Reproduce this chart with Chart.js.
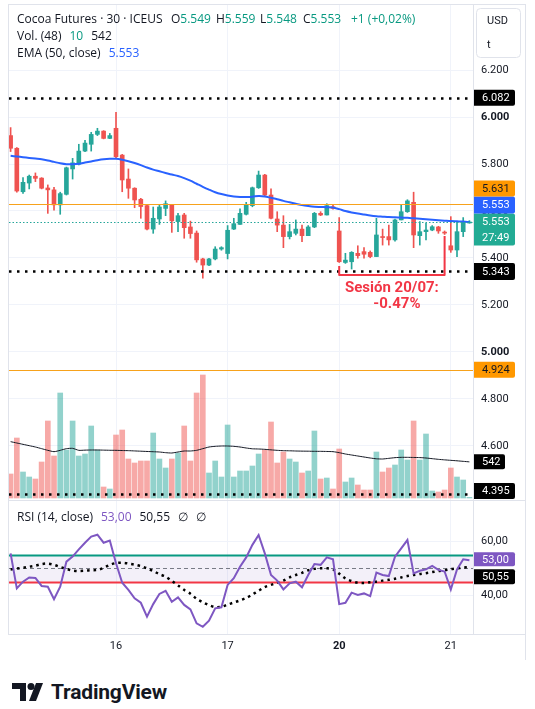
<!DOCTYPE html>
<html>
<head>
<meta charset="utf-8">
<script src="https://cdn.jsdelivr.net/npm/chart.js@4.4.1/dist/chart.umd.min.js"></script>
<style>
  body { margin: 0; width: 535px; height: 709px; overflow: hidden; position: relative; background: #fff;
         font-family: Roboto, "DejaVu Sans", sans-serif; color: #131722; }
  canvas { position: absolute; left: 0; }
  #priceChart { top: 0; }
  #rsiChart { top: 500px; }
  .legend { position: absolute; left: 17px; font-family: "Open Sans", Roboto, sans-serif; font-size: 12px;
            line-height: 17px; white-space: nowrap; }
  .legend .at { position: absolute; top: 0; }
  .up { color: #089981; }
  .blue { color: #2962ff; }
  .purple { color: #7e57c2; }
  .gap { margin-left: 8px; }
  #brand { position: absolute; left: 12px; top: 680px; height: 24px; display: flex; align-items: center; }
  #brand span { font-size: 21px; font-weight: bold; margin-left: 8px; letter-spacing: -0.2px; }
</style>
</head>
<body>
<canvas id="priceChart" width="535" height="500"></canvas>
<canvas id="rsiChart" width="535" height="170"></canvas>

<div class="legend" style="top:10px;width:460px;height:17px">Cocoa Futures · 30 · ICEUS
  <span class="at" style="left:154px">O<span class="up">5.549</span></span>
  <span class="at" style="left:199px">H<span class="up">5.559</span></span>
  <span class="at" style="left:243px">L<span class="up">5.548</span></span>
  <span class="at" style="left:286px">C<span class="up">5.553</span></span>
  <span class="at up" style="left:334px">+1 (+0,02%)</span>
</div>
<div class="legend" style="top:27px">Vol. (48)<span class="up gap">10</span><span class="gap">542</span></div>
<div class="legend" style="top:44px">EMA (50, close)<span class="blue gap">5.553</span></div>
<div class="legend" style="top:508px">RSI (14, close)<span class="purple gap">53,00</span><span class="gap">50,55</span><span class="gap">∅</span><span class="gap">∅</span></div>

<div id="brand">
  <svg width="31" height="18" viewBox="0 0 31 18">
    <path d="M0 0H14V18H8V6H0Z" fill="#131722"/>
    <circle cx="19" cy="3.5" r="3.5" fill="#131722"/>
    <path d="M24 0H31L24 18H17Z" fill="#131722"/>
  </svg>
  <span>TradingView</span>
</div>

<script>
// 30 min bars, Jul 15 (partial) to Jul 21, prices in USD/t
const opens = [5921, 5867, 5682, 5719, 5748, 5740, 5698, 5690, 5626, 5671, 5779, 5799, 5855, 5884, 5926, 5940, 5909,
  5952, 5838, 5736, 5697, 5650, 5623, 5523, 5566, 5611, 5626, 5555, 5583, 5532, 5506, 5396, 5370, 5396, 5438,
  5419, 5523, 5543, 5586, 5623, 5699, 5753, 5668, 5566, 5540, 5491, 5505, 5523, 5495, 5532, 5590, 5583, 5618,
  5515, 5381, 5384, 5420, 5427, 5424, 5406, 5491, 5491, 5477, 5562, 5597, 5637, 5495, 5512, 5519, 5532, 5509,
  5452, 5434, 5512, 5549];
const highs = [5955, 5870, 5742, 5753, 5762, 5742, 5711, 5701, 5680, 5787, 5824, 5884, 5901, 5935, 5952, 5942, 5930,
  6020, 5841, 5779, 5699, 5654, 5626, 5617, 5626, 5643, 5626, 5590, 5590, 5557, 5515, 5399, 5399, 5448, 5448,
  5538, 5569, 5609, 5637, 5702, 5770, 5756, 5694, 5597, 5580, 5543, 5562, 5540, 5538, 5594, 5597, 5631, 5628,
  5572, 5420, 5427, 5452, 5444, 5430, 5569, 5523, 5540, 5566, 5628, 5648, 5680, 5555, 5547, 5538, 5535, 5515,
  5576, 5555, 5572, 5559];
const lows = [5853, 5680, 5675, 5694, 5725, 5694, 5590, 5604, 5586, 5668, 5736, 5796, 5853, 5855, 5921, 5907, 5908,
  5824, 5682, 5654, 5614, 5569, 5520, 5505, 5543, 5580, 5509, 5512, 5484, 5484, 5382, 5314, 5367, 5392, 5433,
  5396, 5521, 5543, 5583, 5618, 5696, 5665, 5566, 5512, 5444, 5481, 5498, 5469, 5495, 5529, 5580, 5583, 5608,
  5381, 5377, 5353, 5399, 5399, 5401, 5406, 5455, 5455, 5472, 5562, 5594, 5444, 5455, 5477, 5516, 5505, 5500,
  5424, 5406, 5491, 5548];
const closes = [5867, 5685, 5722, 5748, 5739, 5697, 5690, 5626, 5674, 5784, 5805, 5855, 5889, 5926, 5940, 5909, 5921,
  5831, 5732, 5697, 5647, 5619, 5523, 5569, 5617, 5631, 5558, 5580, 5529, 5504, 5392, 5370, 5396, 5438, 5444,
  5518, 5546, 5590, 5628, 5699, 5753, 5668, 5569, 5540, 5491, 5512, 5523, 5495, 5532, 5590, 5583, 5623, 5611,
  5384, 5391, 5424, 5410, 5416, 5406, 5498, 5487, 5477, 5562, 5597, 5643, 5498, 5512, 5519, 5533, 5515, 5506,
  5434, 5512, 5552, 5553];
const volumes = [360, 900, 390, 315, 285, 540, 1155, 630, 1575, 720, 1155, 630, 660, 1080, 720, 165, 135,
  945, 1020, 585, 525, 555, 555, 975, 585, 450, 585, 675, 1080, 555, 1575, 1845, 375, 555, 315,
  1095, 315, 405, 405, 480, 660, 720, 1140, 525, 690, 585, 540, 375, 405, 1005, 285, 300, 135,
  735, 240, 300, 195, 120, 120, 690, 390, 450, 495, 720, 570, 1155, 570, 960, 105, 90, 120,
  450, 315, 270, 10];
const volMa = [845, 825, 805, 785, 765, 740, 715, 695, 715, 740, 745, 715, 718, 720, 720, 718, 716,
  715, 712, 710, 706, 702, 698, 694, 690, 680, 675, 690, 705, 705, 715, 740, 765, 775, 780,
  780, 775, 765, 750, 738, 735, 730, 722, 715, 710, 708, 705, 703, 702, 700, 700, 698, 695,
  680, 660, 645, 630, 615, 600, 588, 585, 595, 605, 610, 610, 608, 606, 600, 590, 580, 572,
  565, 558, 550, 542];
const ema50 = [5835, 5832, 5829, 5826, 5823, 5820, 5815, 5809, 5803, 5799, 5799, 5801, 5806, 5811, 5816, 5820, 5822,
  5822, 5818, 5812, 5804, 5795, 5785, 5776, 5769, 5762, 5755, 5749, 5740, 5729, 5716, 5703, 5691, 5680, 5672,
  5666, 5662, 5660, 5660, 5661, 5664, 5662, 5656, 5650, 5643, 5637, 5631, 5625, 5621, 5618, 5617, 5616, 5615,
  5608, 5600, 5594, 5589, 5585, 5581, 5578, 5576, 5574, 5573, 5572, 5571, 5569, 5567, 5565, 5563, 5561, 5559,
  5557, 5556, 5555, 5553];
const rsi14 = [55.6, 42.5, 45.0, 46.6, 46.4, 43.4, 43.1, 38.4, 43.1, 52.5, 54.4, 57.1, 59.6, 61.9, 62.6, 59.6, 60.4,
  51.9, 44.6, 41.9, 38.8, 37.1, 31.9, 36.6, 40.4, 41.6, 37.5, 39.1, 36.3, 34.6, 29.4, 28.1, 30.4, 35.0, 35.4,
  43.8, 46.3, 50.6, 54.1, 58.8, 62.5, 55.6, 47.5, 45.4, 42.1, 44.4, 45.0, 42.9, 47.5, 51.6, 51.3, 54.1, 53.4,
  36.6, 37.1, 40.9, 40.0, 40.6, 39.6, 48.4, 47.5, 47.1, 54.4, 57.5, 60.6, 48.1, 49.1, 49.6, 50.9, 49.4, 48.8,
  42.1, 49.6, 53.4, 53.0];
const rsiMa = [49.6, 49.9, 50.2, 50.6, 51.0, 51.6, 51.8, 51.3, 50.5, 49.8, 49.2, 49.0, 49.1, 49.3, 49.4, 50.2, 51.3,
  52.0, 52.1, 51.8, 51.4, 50.8, 50.0, 49.0, 47.8, 46.9, 45.3, 43.6, 41.9, 40.5, 38.6, 37.3, 36.2, 35.5, 35.6,
  36.4, 37.2, 38.0, 38.9, 40.2, 41.6, 43.0, 43.8, 44.6, 45.4, 46.6, 47.5, 48.3, 49.3, 49.8, 50.0, 50.0, 49.6,
  48.0, 46.2, 45.2, 44.6, 44.5, 44.8, 45.0, 45.4, 45.7, 46.1, 46.6, 47.1, 47.5, 47.9, 48.2, 48.6, 49.0, 49.3,
  49.7, 50.0, 50.3, 50.55];

const dayIdx = [17, 35, 53, 71];
const dayLabels = ['16', '17', '20', '21'];
const blackLevels = [6082, 5343, 4395];
const orangeLevels = [5631, 4924];
const lastPrice = 5553;
const countdown = '27:49';
const rsiBands = [55, 50, 45];
const session = { from: 53, to: 70, leftTop: 5366, bottom: 5328, rightTop: 5494, title: 'Sesión 20/07:', change: '-0.47%' };

const FONT = 'Roboto, "DejaVu Sans", sans-serif';
const UP = '#26a69a', DOWN = '#ef5350';
const idx = closes.map((c, i) => i);
const isUp = i => closes[i] >= opens[i];

function fmtPrice(v) {
  const s = Math.round(v).toString();
  return s.length > 3 ? s.slice(0, -3) + '.' + s.slice(-3) : s;
}
const fmtRsi = v => v.toFixed(2).replace('.', ',');

// scales must not push the plot area around with label padding
function noPad(s) {
  s.paddingTop = 0; s.paddingBottom = 0; s.paddingLeft = 0; s.paddingRight = 0;
}

function xAxis(labels) {
  return {
    type: 'linear', min: -0.26, max: 74.58, offset: false,
    afterBuildTicks: s => { s.ticks = dayIdx.map(v => ({ value: v })); },
    grid: { color: '#f0f3fa', drawTicks: false, offset: false },
    border: { display: false },
    ticks: {
      display: labels, padding: 6, color: '#131722', maxRotation: 0, autoSkip: false,
      font: c => ({ family: FONT, size: 11, weight: c.tick && c.tick.value === 53 ? 'bold' : 'normal' }),
      callback: (v, i) => dayLabels[i]
    },
    afterFit: s => { s.height = labels ? 36 : 0; noPad(s); }
  };
}

function hline(ctx, area, y, color, width, dash) {
  ctx.beginPath();
  ctx.strokeStyle = color; ctx.lineWidth = width; ctx.setLineDash(dash);
  ctx.moveTo(area.left, Math.round(y) + 0.5);
  ctx.lineTo(area.right, Math.round(y) + 0.5);
  ctx.stroke();
  ctx.setLineDash([]);
}

function tag(ctx, x, top, w, h, bg, fg, lines) {
  ctx.fillStyle = bg;
  ctx.beginPath(); ctx.roundRect(x, top, w, h, [0, 2, 2, 0]); ctx.fill();
  ctx.fillStyle = fg; ctx.font = '11px ' + FONT;
  ctx.textAlign = 'left'; ctx.textBaseline = 'middle';
  lines.forEach((t, k) => ctx.fillText(t, x + 8, top + h / lines.length / 2 + k * (h / lines.length) + 0.5));
}

function frame(ctx, x0, y0, x1, y1, sides) {
  ctx.strokeStyle = '#e0e3eb'; ctx.lineWidth = 1;
  ctx.beginPath();
  if (sides.includes('t')) { ctx.moveTo(x0, y0 + 0.5); ctx.lineTo(x1, y0 + 0.5); }
  if (sides.includes('b')) { ctx.moveTo(x0, y1 - 0.5); ctx.lineTo(x1, y1 - 0.5); }
  if (sides.includes('l')) { ctx.moveTo(x0 + 0.5, y0); ctx.lineTo(x0 + 0.5, y1); }
  if (sides.includes('r')) { ctx.moveTo(x1 - 0.5, y0); ctx.lineTo(x1 - 0.5, y1); }
  ctx.stroke();
}

const pricePane = {
  id: 'pricePane',
  afterDatasetsDraw(chart) {
    const { ctx, chartArea: a, scales: { x, y } } = chart;
    ctx.save();
    hline(ctx, a, y.getPixelForValue(lastPrice), UP, 1, [1.5, 2]);
    orangeLevels.forEach(v => hline(ctx, a, y.getPixelForValue(v), '#f7a21b', 1, []));
    blackLevels.forEach(v => hline(ctx, a, y.getPixelForValue(v), '#000', 2.5, [2.5, 5.5]));

    // session bracket
    const xl = x.getPixelForValue(session.from), xr = x.getPixelForValue(session.to);
    const yb = y.getPixelForValue(session.bottom);
    ctx.strokeStyle = '#f23645'; ctx.lineWidth = 2; ctx.lineJoin = 'round';
    ctx.beginPath();
    ctx.moveTo(xl, y.getPixelForValue(session.leftTop));
    ctx.lineTo(xl, yb); ctx.lineTo(xr, yb);
    ctx.lineTo(xr, y.getPixelForValue(session.rightTop));
    ctx.stroke();
    ctx.fillStyle = '#f23645'; ctx.font = 'bold 15px ' + FONT;
    ctx.textAlign = 'center'; ctx.textBaseline = 'middle';
    const xc = (xl + xr) / 2 + 2;
    ctx.fillText(session.title, xc - 2, yb + 13);
    ctx.fillText(session.change, xc + 3, yb + 29);
    ctx.restore();
  },
  afterDraw(chart) {
    const { ctx, chartArea: a, scales: { y, yv } } = chart;
    ctx.save();
    frame(ctx, 8, 4, 526, 500, 'tlr');
    const tx = a.right + 1, tw = 41;
    // USD / t unit box
    ctx.fillStyle = '#fff'; ctx.strokeStyle = '#e0e3eb';
    ctx.beginPath(); ctx.roundRect(476.5, 8.5, 44, 49, 4); ctx.fill(); ctx.stroke();
    ctx.fillStyle = '#131722'; ctx.font = '11px ' + FONT; ctx.textAlign = 'left'; ctx.textBaseline = 'middle';
    ctx.fillText('USD', 487, 21); ctx.fillText('t', 487, 45);

    const yCur = y.getPixelForValue(lastPrice);
    const curTop = yCur - 8.5;
    tag(ctx, tx, curTop, tw, 32, '#22ab94', '#fff', [fmtPrice(lastPrice), countdown]);
    tag(ctx, tx, curTop - 17, tw, 17, '#2962ff', '#fff', [fmtPrice(ema50[ema50.length - 1])]);
    tag(ctx, tx, curTop - 33, tw, 16, '#ff9800', '#131722', [fmtPrice(orangeLevels[0])]);
    const c = v => y.getPixelForValue(v);
    tag(ctx, tx, c(blackLevels[0]) - 8, tw, 16, '#000', '#fff', [fmtPrice(blackLevels[0])]);
    tag(ctx, tx, c(blackLevels[1]) - 8.5, tw, 17, '#000', '#fff', [fmtPrice(blackLevels[1])]);
    tag(ctx, tx, c(orangeLevels[1]) - 8, tw, 16, '#ff9800', '#131722', [fmtPrice(orangeLevels[1])]);
    const vLast = volMa[volMa.length - 1];
    tag(ctx, tx, yv.getPixelForValue(vLast) - 7.5, 31, 15, '#000', '#fff', [String(vLast)]);
    tag(ctx, tx, Math.min(c(blackLevels[2]) - 8, 483), tw, 16, '#000', '#fff', [fmtPrice(blackLevels[2])]);
    ctx.restore();
  }
};

new Chart(document.getElementById('priceChart'), {
  type: 'bar',
  data: {
    datasets: [
      {
        label: 'EMA', type: 'line', yAxisID: 'y', order: 1,
        data: idx.map(i => ({ x: i, y: ema50[i] })),
        borderColor: '#2962ff', borderWidth: 2, pointRadius: 0, tension: 0.3
      },
      {
        label: 'body', yAxisID: 'y', order: 2, grouped: false, barThickness: 4, minBarLength: 1,
        data: idx.map(i => ({ x: i, y: [opens[i], closes[i]] })),
        backgroundColor: c => isUp(c.dataIndex) ? UP : DOWN
      },
      {
        label: 'wick', yAxisID: 'y', order: 3, grouped: false, barThickness: 1,
        data: idx.map(i => ({ x: i, y: [lows[i], highs[i]] })),
        backgroundColor: c => isUp(c.dataIndex) ? UP : DOWN
      },
      {
        label: 'Vol MA', type: 'line', yAxisID: 'yv', order: 4,
        data: idx.map(i => ({ x: i, y: volMa[i] })),
        borderColor: '#131722', borderWidth: 1, pointRadius: 0, tension: 0.2
      },
      {
        label: 'Volume', yAxisID: 'yv', order: 5, grouped: false, barThickness: 5,
        data: idx.map(i => ({ x: i, y: volumes[i] })),
        backgroundColor: c => isUp(c.dataIndex) ? 'rgba(38,166,154,0.5)' : 'rgba(239,83,80,0.5)'
      }
    ]
  },
  options: {
    responsive: false, animation: false, devicePixelRatio: 1,
    layout: { padding: { left: 9, top: 4, right: 0, bottom: 0 }, autoPadding: false },
    plugins: { legend: { display: false }, tooltip: { enabled: false } },
    scales: {
      x: xAxis(false),
      y: {
        position: 'right', min: 4370, max: 6481,
        afterBuildTicks: s => { s.ticks = s.ticks.filter(t => t.value % 200 === 0 && t.value >= 4600 && t.value <= 6200); },
        ticks: {
          stepSize: 200, padding: 8, color: '#131722',
          font: c => ({ family: FONT, size: 11, weight: c.tick && c.tick.value % 1000 === 0 ? 'bold' : 'normal' }),
          callback: v => fmtPrice(v)
        },
        grid: { color: '#f0f3fa', drawTicks: false },
        border: { color: '#e0e3eb' },
        afterFit: s => { s.width = 62; noPad(s); }
      },
      yv: { display: false, min: -30, max: 7410, afterFit: noPad }
    }
  },
  plugins: [pricePane]
});

const rsiPane = {
  id: 'rsiPane',
  beforeDatasetsDraw(chart) {
    const { ctx, chartArea: a, scales: { y } } = chart;
    ctx.save();
    const yHi = y.getPixelForValue(rsiBands[0]), yLo = y.getPixelForValue(rsiBands[2]);
    ctx.fillStyle = 'rgba(126,87,194,0.09)';
    ctx.fillRect(a.left, yHi, a.right - a.left, yLo - yHi);
    hline(ctx, a, y.getPixelForValue(rsiBands[1]), '#787b86', 1, [4, 3]);
    hline(ctx, a, yHi, '#089981', 2, []);
    hline(ctx, a, yLo, '#f23645', 2, []);
    ctx.restore();
  },
  afterDraw(chart) {
    const { ctx, chartArea: a, scales: { y } } = chart;
    ctx.save();
    frame(ctx, 8, 0, 526, a.bottom + 1, 'tlb');
    frame(ctx, 8, 0, 526, 160, 'r');
    const tx = a.right + 1, tw = 41;
    const pTop = y.getPixelForValue(rsi14[rsi14.length - 1]) - 8;
    tag(ctx, tx, pTop, tw, 14, '#7e57c2', '#fff', [fmtRsi(rsi14[rsi14.length - 1])]);
    tag(ctx, tx, pTop + 17, tw, 15, '#000', '#fff', [fmtRsi(rsiMa[rsiMa.length - 1])]);
    ctx.restore();
  }
};

new Chart(document.getElementById('rsiChart'), {
  type: 'line',
  data: {
    datasets: [
      {
        label: 'RSI', data: idx.map(i => ({ x: i, y: rsi14[i] })), order: 1,
        borderColor: '#7e57c2', borderWidth: 2, pointRadius: 0, tension: 0
      },
      {
        label: 'RSI MA', data: idx.map(i => ({ x: i, y: rsiMa[i] })), order: 2,
        borderColor: '#000', borderWidth: 2.5, borderDash: [2.5, 4], pointRadius: 0, tension: 0.3
      }
    ]
  },
  options: {
    responsive: false, animation: false, devicePixelRatio: 1,
    layout: { padding: { left: 9, top: 0, right: 0, bottom: 0 }, autoPadding: false },
    plugins: { legend: { display: false }, tooltip: { enabled: false } },
    scales: {
      x: xAxis(true),
      y: {
        position: 'right', min: 25.4, max: 75.6,
        afterBuildTicks: s => { s.ticks = s.ticks.filter(t => t.value === 40 || t.value === 60); },
        ticks: { stepSize: 20, padding: 8, color: '#131722', font: { family: FONT, size: 11 }, callback: v => fmtRsi(v) },
        grid: { color: '#f0f3fa', drawTicks: false },
        border: { color: '#e0e3eb' },
        afterFit: s => { s.width = 62; noPad(s); }
      }
    }
  },
  plugins: [rsiPane]
});
</script>
</body>
</html>
